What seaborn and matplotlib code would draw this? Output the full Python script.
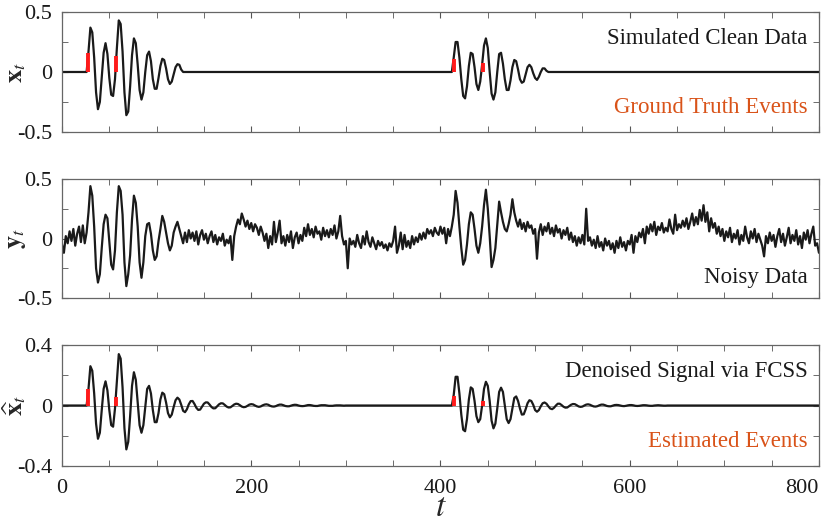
import numpy as np
import pandas as pd
import matplotlib
matplotlib.use("Agg")
import matplotlib.pyplot as plt
import seaborn as sns

# samples are read every 2 time steps
T_STEP = 2
T_MAX = 800

# clean data: two bursts, zero elsewhere
clean_b1_start = 26
clean_b1 = [0.00, 0.17, 0.37, 0.33, 0.12, -0.17, -0.31, -0.25, -0.05, 0.16,
            0.24, 0.15, -0.05, -0.19, -0.20, -0.06, 0.20, 0.43, 0.40, 0.17,
            -0.17, -0.36, -0.33, -0.12, 0.14, 0.28, 0.24, 0.06, -0.15, -0.23,
            -0.17, 0.00, 0.14, 0.17, 0.09, -0.06, -0.14, -0.14, -0.05, 0.05,
            0.11, 0.10, 0.03, -0.06, -0.10, -0.08, -0.02, 0.04, 0.065, 0.06,
            0.02, 0.00]
clean_b2_start = 412
clean_b2 = [0.00, 0.12, 0.25, 0.25, 0.12, -0.06, -0.20, -0.22, -0.12, 0.05,
            0.16, 0.15, 0.04, -0.10, -0.15, -0.08, 0.06, 0.22, 0.28, 0.20,
            0.00, -0.18, -0.23, -0.17, 0.00, 0.15, 0.16, 0.07, -0.06, -0.15,
            -0.15, -0.07, 0.04, 0.10, 0.09, 0.02, -0.06, -0.09, -0.08, -0.02,
            0.04, 0.06, 0.04, -0.01, -0.05, -0.066, -0.04, 0.00, 0.03, 0.03,
            0.01, 0.00]

# noisy data, t = 0, 2, ..., 800
noisy = [
    -0.05, -0.12, 0.02, -0.04, 0.06, -0.02, 0.08, -0.06, 0.04, 0.10,
    -0.03, 0.11, -0.04, 0.05, 0.22, 0.44, 0.36, 0.10, -0.25, -0.37,
    -0.30, -0.08, 0.12, 0.20, 0.17, -0.02, -0.22, -0.26, -0.10, 0.22,
    0.44, 0.40, 0.20, -0.20, -0.40, -0.30, -0.14, 0.16, 0.36, 0.30,
    0.10, -0.20, -0.33, -0.20, 0.02, 0.12, 0.13, 0.04, -0.10, -0.18,
    -0.15, -0.02, 0.08, 0.19, 0.14, 0.05, -0.04, -0.10, -0.06, 0.05,
    0.10, 0.14, 0.08, 0.02, -0.04, 0.05, -0.03, 0.07, 0.00, 0.05,
    -0.02, 0.06, -0.05, 0.03, 0.07, -0.01, 0.04, -0.04, 0.02, 0.06,
    -0.03, 0.03, -0.05, 0.01, -0.02, 0.04, -0.06, -0.01, -0.04, 0.02,
    -0.18, 0.02, 0.10, 0.16, 0.12, 0.21, 0.16, 0.10, 0.15, 0.08,
    0.13, 0.06, 0.12, 0.09, 0.03, 0.10, 0.05, -0.02, 0.04, -0.08,
    0.02, -0.05, 0.14, -0.03, 0.05, 0.15, -0.04, 0.02, -0.06, 0.03,
    -0.03, 0.06, -0.08, 0.01, 0.05, -0.04, 0.03, -0.02, 0.09, 0.02,
    0.12, 0.03, 0.08, 0.01, 0.10, 0.04, 0.06, -0.01, 0.09, 0.02,
    0.07, 0.01, 0.08, 0.03, 0.11, 0.00, 0.06, 0.19, 0.02, -0.05,
    -0.02, -0.25, 0.00, -0.05, -0.02, -0.07, 0.03, -0.04, -0.08, 0.02,
    -0.05, 0.06, -0.03, -0.07, 0.01, -0.04, -0.09, -0.02, -0.06, -0.03,
    -0.08, -0.05, -0.10, -0.04, -0.07, -0.02, 0.10, -0.12, -0.06, 0.05,
    -0.09, 0.03, -0.07, -0.02, -0.08, 0.02, -0.05, 0.01, -0.03, 0.04,
    -0.01, 0.05, 0.00, 0.08, 0.04, 0.07, 0.02, 0.09, 0.05, 0.03,
    0.10, 0.04, 0.09, -0.04, 0.08, 0.02, 0.10, 0.20, 0.40, 0.30,
    0.10, -0.08, -0.22, -0.18, -0.05, 0.12, 0.22, 0.20, 0.08, -0.06,
    -0.12, -0.04, 0.10, 0.28, 0.41, 0.25, 0.02, -0.24, -0.18, -0.08,
    0.12, 0.31, 0.22, 0.14, 0.08, 0.06, 0.12, 0.20, 0.33, 0.22,
    0.15, 0.10, 0.16, 0.08, 0.13, 0.06, 0.14, 0.09, 0.11, 0.04,
    0.08, -0.17, 0.05, 0.12, 0.03, 0.10, 0.06, 0.13, 0.04, 0.09,
    0.02, 0.11, 0.05, 0.08, 0.00, 0.07, 0.03, 0.09, -0.01, 0.05,
    -0.03, 0.02, -0.06, 0.01, -0.04, 0.03, -0.05, 0.25, -0.02, 0.01,
    -0.06, -0.01, -0.08, 0.02, -0.07, -0.03, -0.10, 0.00, -0.06, -0.02,
    -0.09, -0.04, -0.12, -0.02, -0.08, 0.01, -0.07, -0.03, -0.10, -0.02,
    -0.05, 0.03, -0.12, 0.02, -0.03, 0.05, 0.01, 0.08, -0.04, 0.10,
    0.04, 0.12, 0.06, 0.14, 0.03, 0.10, 0.07, 0.13, 0.05, 0.09,
    0.06, 0.16, 0.08, 0.04, 0.20, 0.07, 0.12, 0.09, 0.15, 0.10,
    0.17, 0.08, 0.14, 0.21, 0.11, 0.18, 0.12, 0.24, 0.15, 0.28,
    0.14, 0.22, 0.06, 0.17, 0.09, 0.13, 0.04, 0.10, 0.02, 0.08,
    -0.02, 0.06, 0.01, 0.09, -0.03, 0.04, 0.00, 0.07, -0.05, 0.03,
    -0.02, 0.10, 0.01, -0.04, 0.06, 0.00, 0.08, -0.03, 0.04, -0.01,
    -0.06, -0.15, 0.02, -0.04, 0.05, -0.02, 0.03, -0.07, 0.02, 0.08,
    -0.03, 0.04, -0.06, 0.01, 0.09, -0.04, 0.03, -0.02, 0.07, -0.05,
    0.02, -0.08, 0.05, -0.01, 0.07, -0.04, 0.04, 0.10, -0.06, -0.04,
    -0.12,
]

# denoised signal (FCSS)
den_b1_start = 26
den_b1 = [0.00, 0.11, 0.26, 0.23, 0.08, -0.12, -0.22, -0.18, -0.03, 0.11,
          0.16, 0.10, -0.03, -0.13, -0.14, -0.02, 0.16, 0.34, 0.31, 0.12,
          -0.15, -0.29, -0.24, -0.07, 0.13, 0.22, 0.17, 0.02, -0.13, -0.18,
          -0.13, -0.01, 0.11, 0.13, 0.08, -0.03, -0.11, -0.11, -0.05, 0.04,
          0.085, 0.075, 0.02, -0.05, -0.078, -0.06, -0.01, 0.035, 0.052, 0.04,
          0.005, -0.035, -0.044, -0.025, 0.008, 0.029, 0.03, 0.01, -0.015, -0.029,
          -0.027, -0.008, 0.012, 0.021, 0.02, 0.006, -0.01, -0.019, -0.018, -0.005,
          0.008, 0.015, 0.014, 0.004, -0.007, -0.013, -0.012, -0.003, 0.007, 0.012,
          0.01, 0.002, -0.007, -0.011, -0.009, -0.002, 0.006, 0.009, 0.007, 0.0,
          -0.006, -0.009, -0.006, 0.001, 0.006, 0.008, 0.005, -0.002, -0.006, -0.007,
          -0.004, 0.002, 0.006, 0.006, 0.002, -0.003, -0.005, -0.005, -0.001, 0.003,
          0.005, 0.004, 0.0, -0.003, -0.004, -0.003, 0.0, 0.003, 0.003, 0.001,
          -0.002, -0.003, -0.003, 0.0, 0.002, 0.002, 0.002, 0.0, -0.002, -0.002,
          -0.002, 0.0, 0.001, 0.001, 0.001, 0.0, -0.001, 0.0]
den_b2_start = 412
den_b2 = [0.00, 0.07, 0.19, 0.19, 0.08, -0.06, -0.16, -0.17, -0.09, 0.04,
          0.12, 0.11, 0.03, -0.07, -0.11, -0.09, 0.00, 0.11, 0.157, 0.13,
          0.03, -0.10, -0.151, -0.12, -0.02, 0.09, 0.118, 0.09, 0.00, -0.09,
          -0.116, -0.09, -0.02, 0.05, 0.06, 0.03, -0.02, -0.06, -0.058, -0.025,
          0.015, 0.035, 0.03, 0.005, -0.03, -0.041, -0.03, -0.005, 0.015, 0.02,
          0.012, -0.005, -0.02, -0.024, -0.015, 0.0, 0.012, 0.012, 0.003, -0.008,
          -0.014, -0.013, -0.004, 0.005, 0.01, 0.009, 0.002, -0.006, -0.009, -0.007,
          0.0, 0.006, 0.008, 0.005, -0.001, -0.006, -0.007, -0.004, 0.002, 0.006,
          0.006, 0.002, -0.003, -0.005, -0.005, -0.001, 0.003, 0.004, 0.003, 0.0,
          -0.003, -0.004, -0.002, 0.001, 0.003, 0.003, 0.001, -0.002, -0.003, -0.002,
          0.0, 0.002, 0.002, 0.001, -0.001, -0.002, -0.002, 0.0, 0.001, 0.002,
          0.001, 0.0, -0.001, -0.001, 0.0]

# sparse events (time, amplitude)
true_event_t = [27, 57, 414, 445]
true_event_amp = [0.16, 0.13, 0.11, 0.073]
est_event_t = [28, 57, 414, 445]
est_event_amp = [0.11, 0.057, 0.066, 0.033]

LINE = "#1a1a1a"
EVENT = "#ff1a1a"
ORANGE = "#d95319"


def build(segments):
    t = np.arange(0, T_MAX + 1, T_STEP)
    y = np.zeros(len(t))
    for start, vals in segments:
        i = start // T_STEP
        y[i:i + len(vals)] = vals
    return pd.DataFrame({"t": t, "y": y})


def style_axis(ax, ylim, yticks, yminor, ylabels):
    ax.set_xlim(0, T_MAX)
    ax.set_ylim(*ylim)
    ax.set_xticks(np.arange(0, T_MAX + 1, 200))
    ax.set_xticks(np.arange(0, T_MAX + 1, 50), minor=True)
    ax.set_yticks(yticks)
    ax.set_yticklabels(ylabels)
    ax.set_yticks(yminor, minor=True)
    ax.tick_params(which="both", direction="in", top=True, right=True,
                   color="#555555", labelsize=16, labelcolor="#1a1a1a",
                   length=4)
    ax.tick_params(axis="y", which="major", pad=7)
    ax.tick_params(axis="x", which="major", pad=9)
    for s in ax.spines.values():
        s.set_color("#666666")
        s.set_linewidth(0.9)
    ax.set_xlabel("")


def main():
    sns.set_style("ticks")
    plt.rcParams["font.family"] = ["Liberation Serif", "DejaVu Serif"]
    plt.rcParams["mathtext.fontset"] = "stix"
    plt.rcParams["axes.unicode_minus"] = False

    clean = build([(clean_b1_start, clean_b1), (clean_b2_start, clean_b2)])
    noisy_df = pd.DataFrame({"t": np.arange(0, T_MAX + 1, T_STEP), "y": noisy})
    den = build([(den_b1_start, den_b1), (den_b2_start, den_b2)])

    fig = plt.figure(figsize=(8.3, 5.19), dpi=100)
    ax1 = fig.add_axes([0.0747, 0.7457, 0.912, 0.2312])
    ax2 = fig.add_axes([0.0747, 0.4258, 0.912, 0.2293])
    ax3 = fig.add_axes([0.0747, 0.1021, 0.912, 0.2331])

    # top: clean data + ground truth
    sns.lineplot(data=clean, x="t", y="y", ax=ax1, color=LINE, lw=1.6)
    ax1.vlines(true_event_t, 0, true_event_amp, color=EVENT, lw=2.8, zorder=5)
    style_axis(ax1, (-0.5, 0.5), [-0.5, 0, 0.5], [-0.25, 0.25], ["-0.5", "0", "0.5"])
    ax1.set_xticklabels([])
    ax1.set_ylabel(r"$\mathbf{x}_t$", fontsize=19)
    ax1.text(0.985, 0.78, "Simulated Clean Data", transform=ax1.transAxes,
             ha="right", va="center", fontsize=16.5, color="#1a1a1a")
    ax1.text(0.985, 0.2, "Ground Truth Events", transform=ax1.transAxes,
             ha="right", va="center", fontsize=16.5, color=ORANGE)

    # middle: noisy observations
    sns.lineplot(data=noisy_df, x="t", y="y", ax=ax2, color=LINE, lw=1.6)
    style_axis(ax2, (-0.5, 0.5), [-0.5, 0, 0.5], [-0.25, 0.25], ["-0.5", "0", "0.5"])
    ax2.set_xticklabels([])
    ax2.set_ylabel(r"$\mathbf{y}_t$", fontsize=19)
    ax2.text(0.985, 0.17, "Noisy Data", transform=ax2.transAxes,
             ha="right", va="center", fontsize=16.5, color="#1a1a1a")

    # bottom: denoised + estimated events
    ax3.axhline(0, color="#888888", lw=0.6, zorder=0)
    sns.lineplot(data=den, x="t", y="y", ax=ax3, color=LINE, lw=1.6)
    ax3.vlines(est_event_t, 0, est_event_amp, color=EVENT, lw=2.8, zorder=5)
    style_axis(ax3, (-0.4, 0.4), [-0.4, 0, 0.4], [-0.2, 0.2], ["-0.4", "0", "0.4"])
    ax3.set_xticklabels(["0", "200", "400", "600", "800"])
    ax3.get_xticklabels()[-1].set_ha("right")
    ax3.set_ylabel(r"$\widehat{\mathbf{x}}_t$", fontsize=19)
    ax3.set_xlabel(r"$t$", fontsize=24)
    ax3.xaxis.set_label_coords(0.5, -0.22)
    ax3.text(0.985, 0.78, "Denoised Signal via FCSS", transform=ax3.transAxes,
             ha="right", va="center", fontsize=16.5, color="#1a1a1a")
    ax3.text(0.985, 0.2, "Estimated Events", transform=ax3.transAxes,
             ha="right", va="center", fontsize=16.5, color=ORANGE)

    for ax in (ax1, ax2, ax3):
        ax.yaxis.set_label_coords(-0.045, 0.5)

    fig.savefig("out.png", dpi=100)
    plt.close(fig)


if __name__ == "__main__":
    main()
